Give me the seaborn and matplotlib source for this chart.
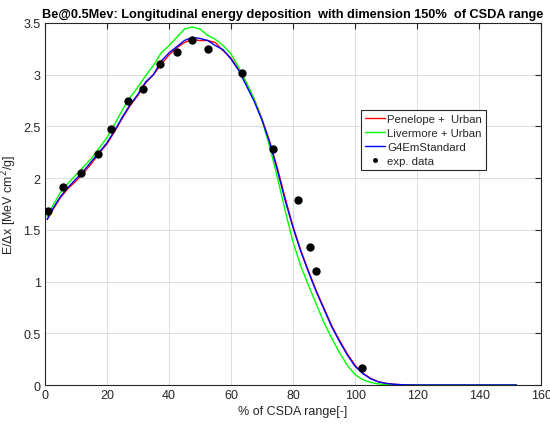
import numpy as np
import pandas as pd
import matplotlib
matplotlib.use("Agg")
import matplotlib.pyplot as plt
import seaborn as sns
from matplotlib.lines import Line2D

# ---------------- data ----------------
x_sim = [0.75, 2.5, 5, 7.5, 10, 12.5, 15, 17.5, 20, 22.5, 25, 27.5, 30, 32.5, 35,
         37.5, 40, 42.5, 45, 47.5, 50, 52.5, 55, 57.5, 60, 62.5, 65, 67.5, 70,
         72.5, 75, 77.5, 80, 82.5, 85, 87.5, 90, 92.5, 95, 97.5, 100, 102.5, 105,
         107.5, 110, 112.5, 115, 117.5, 120, 125, 130, 135, 140, 145, 150, 152]

penelope = [1.60, 1.69, 1.81, 1.90, 1.97, 2.05, 2.14, 2.24, 2.33, 2.45, 2.58, 2.70,
            2.80, 2.92, 3.00, 3.10, 3.19, 3.26, 3.31, 3.34, 3.33, 3.33, 3.31, 3.23,
            3.16, 3.05, 2.92, 2.76, 2.57, 2.35, 2.09, 1.80, 1.53, 1.30, 1.10, 0.91,
            0.74, 0.57, 0.43, 0.30, 0.19, 0.115, 0.065, 0.032, 0.016, 0.007, 0.003,
            0.001, 0.0, 0.0, 0.0, 0.0, 0.0, 0.0, 0.0, 0.0]

livermore = [1.63, 1.73, 1.86, 1.95, 2.03, 2.11, 2.19, 2.29, 2.39, 2.52, 2.66, 2.78,
             2.88, 2.99, 3.09, 3.21, 3.28, 3.36, 3.44, 3.46, 3.44, 3.38, 3.34, 3.28,
             3.20, 3.07, 2.92, 2.76, 2.56, 2.30, 2.00, 1.68, 1.38, 1.15, 0.96, 0.78,
             0.60, 0.45, 0.31, 0.19, 0.10, 0.05, 0.025, 0.01, 0.004, 0.001, 0.0,
             0.0, 0.0, 0.0, 0.0, 0.0, 0.0, 0.0, 0.0, 0.0]

g4em = [1.60, 1.70, 1.82, 1.91, 1.99, 2.07, 2.16, 2.25, 2.34, 2.46, 2.59, 2.71,
        2.81, 2.93, 3.00, 3.13, 3.21, 3.27, 3.33, 3.36, 3.35, 3.33, 3.28, 3.24,
        3.15, 3.04, 2.89, 2.74, 2.56, 2.34, 2.07, 1.78, 1.52, 1.29, 1.09, 0.90,
        0.73, 0.56, 0.42, 0.29, 0.18, 0.11, 0.06, 0.03, 0.015, 0.007, 0.003,
        0.001, 0.0, 0.0, 0.0, 0.0, 0.0, 0.0, 0.0, 0.0]

x_exp = [1.0, 6.0, 11.7, 17.0, 21.4, 26.8, 31.6, 37.0, 42.7, 47.4, 52.6, 63.7,
         73.5, 81.5, 85.4, 87.5, 102.2]
y_exp = [1.68, 1.91, 2.05, 2.23, 2.47, 2.75, 2.86, 3.10, 3.22, 3.33, 3.25, 3.02,
         2.28, 1.79, 1.33, 1.10, 0.166]

series_names = ["Penelope +  Urban", "Livermore + Urban", "G4EmStandard"]
series_colors = ["#ff0000", "#00ff00", "#0000ff"]
x_ticks = [0, 20, 40, 60, 80, 100, 120, 140, 160]
y_ticks = [0, 0.5, 1, 1.5, 2, 2.5, 3, 3.5]
y_tick_labels = ["0", "0.5", "1", "1.5", "2", "2.5", "3", "3.5"]

# ---------------- figure ----------------
sns.set_theme(style="white")
plt.rcParams["font.family"] = ["Liberation Sans", "DejaVu Sans"]

fig = plt.figure(figsize=(5.5, 4.27), dpi=100)
ax = fig.add_axes([0.0815, 0.0960, 0.9027, 0.8480])

sim = pd.DataFrame({
    "x": x_sim * 3,
    "y": penelope + livermore + g4em,
    "model": [series_names[0]] * len(x_sim) + [series_names[1]] * len(x_sim)
             + [series_names[2]] * len(x_sim),
})
sns.lineplot(data=sim, x="x", y="y", hue="model", hue_order=series_names,
             palette=series_colors, linewidth=1.0, ax=ax, legend=False,
             sort=False)

exp = pd.DataFrame({"x": x_exp, "y": y_exp})
sns.scatterplot(data=exp, x="x", y="y", color="black", s=36, edgecolor="black",
                linewidth=0, ax=ax, zorder=5, legend=False)

ax.set_xlim(0, 160)
ax.set_ylim(0, 3.5)
ax.set_xticks(x_ticks)
ax.set_yticks(y_ticks)
ax.set_yticklabels(y_tick_labels)
ax.grid(True, color="#dcdcdc", linewidth=0.7)
ax.set_axisbelow(True)
for sp in ax.spines.values():
    sp.set_visible(True)
    sp.set_color("#262626")
    sp.set_linewidth(0.8)
ax.tick_params(direction="in", length=4, width=0.8, top=True, right=True,
               labelsize=9, colors="#262626", pad=3)

ax.set_xlabel("% of CSDA range[-]", fontsize=9, color="#262626", labelpad=3)
ax.set_ylabel(r"E/$\Delta$x [MeV cm$^2$/g]", fontsize=9, color="#262626",
              labelpad=3)
ax.set_title("Be@0.5Mev: Longitudinal energy deposition  with dimension 150%  of CSDA range",
             fontsize=9.2, fontweight="bold", pad=4, loc="center", color="black")

handles = [Line2D([], [], color=c, lw=1.0) for c in series_colors]
handles.append(Line2D([], [], color="black", marker=".", linestyle="none",
                      markersize=5))
leg = ax.legend(handles, series_names + ["exp. data"], loc="upper left",
                bbox_to_anchor=(0.636, 0.759), borderaxespad=0, fontsize=8.2,
                frameon=True, fancybox=False, framealpha=1, edgecolor="#262626",
                handlelength=1.75, handletextpad=0.25, labelspacing=0.34,
                borderpad=0.35)
leg.get_frame().set_linewidth(0.8)

fig.savefig("out.png", dpi=100)
